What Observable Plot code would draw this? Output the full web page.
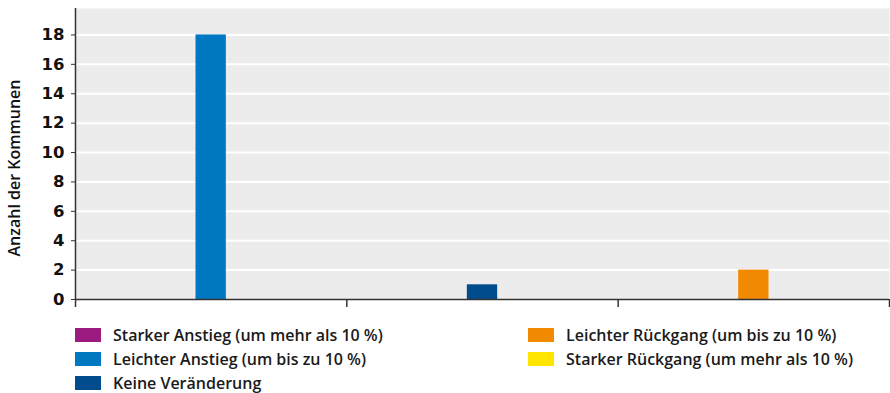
<!DOCTYPE html>
<html>
<head>
<meta charset="utf-8">
<script src="https://cdn.jsdelivr.net/npm/d3@7"></script>
<script src="https://cdn.jsdelivr.net/npm/@observablehq/plot@0.6"></script>
<style>
  body { margin: 0; background: #fff; font-family: "Open Sans", sans-serif; }
  #wrap { position: relative; width: 890px; height: 393px; }
  #legend { position: absolute; left: 0; top: 0; width: 890px; height: 393px; pointer-events: none; }
  .item { position: absolute; display: flex; align-items: center; font-size: 16px; font-weight: 600; color: #1a1a1a; white-space: nowrap; }
  .sw { width: 26px; height: 14px; margin-right: 12px; }
  #ylabel { position: absolute; left: 14px; top: 168px; transform: translate(-50%, -50%) rotate(-90deg);
            font-size: 16px; font-weight: 600; color: #111; white-space: nowrap; }
  #chart svg text { font-family: "DejaVu Sans", sans-serif; font-size: 16.5px; font-weight: bold; }
</style>
</head>
<body>
<div id="wrap"><div id="chart"></div><div id="ylabel">Anzahl der Kommunen</div><div id="legend"></div></div>
<script>
// Veränderung der Kommunen, gruppiert nach Richtung
const groups = ["Anstieg", "Keine Veränderung", "Rückgang"];
const series = [
  "Starker Anstieg (um mehr als 10 %)",
  "Leichter Anstieg (um bis zu 10 %)",
  "Keine Veränderung",
  "Leichter Rückgang (um bis zu 10 %)",
  "Starker Rückgang (um mehr als 10 %)"
];
const seriesGroup = ["Anstieg", "Anstieg", "Keine Veränderung", "Rückgang", "Rückgang"];
const values = [0, 18, 1, 2, 0];
const colors = ["#9c1b80", "#0077c1", "#004c8c", "#f18a00", "#ffe500"];
const yTicks = [0, 2, 4, 6, 8, 10, 12, 14, 16, 18];

const data = series.map((s, i) => ({
  series: s, group: seriesGroup[i], value: values[i],
  gi: groups.indexOf(seriesGroup[i])
}));

const chart = Plot.plot({
  width: 890,
  height: 312,
  marginLeft: 75,
  marginRight: 1,
  marginTop: 8,
  marginBottom: 13,
  style: { background: "transparent" },
  x: { domain: [0, groups.length], axis: null },
  y: { domain: [0, 19.8], axis: null },
  color: { domain: series, range: colors },
  marks: [
    Plot.frame({ fill: "#ececec", stroke: null }),
    Plot.ruleY(yTicks.slice(1), { stroke: "#ffffff", strokeWidth: 2 }),
    Plot.rectY(data.filter(d => d.value > 0), {
      x1: "gi", x2: d => d.gi + 1, y: "value", fill: "series",
      insetLeft: 120.5, insetRight: 120.5
    }),
    Plot.axisY({
      ticks: yTicks, tickSize: 4, tickPadding: 7, label: null,
      stroke: "#333", fill: "#111"
    }),
    Plot.axisX({
      ticks: d3.range(groups.length + 1), tickSize: 8, tickFormat: () => "",
      label: null, stroke: "#333", strokeWidth: 1.5
    }),
    Plot.ruleY([0], { stroke: "#333", strokeWidth: 1.5 }),
    Plot.ruleX([0], { y1: 0, y2: 19.8, stroke: "#333", strokeWidth: 1.5 })
  ]
});
document.getElementById("chart").appendChild(chart);

// Legende in zwei Spalten
const legend = document.getElementById("legend");
const pos = [[75, 335], [75, 359], [75, 383], [528, 335], [528, 359]];
series.forEach((s, i) => {
  const el = document.createElement("div");
  el.className = "item";
  el.style.left = pos[i][0] + "px";
  el.style.top = (pos[i][1] - 11) + "px";
  el.style.height = "22px";
  el.innerHTML = `<span class="sw" style="background:${colors[i]}"></span><span>${s}</span>`;
  legend.appendChild(el);
});
</script>
</body>
</html>
